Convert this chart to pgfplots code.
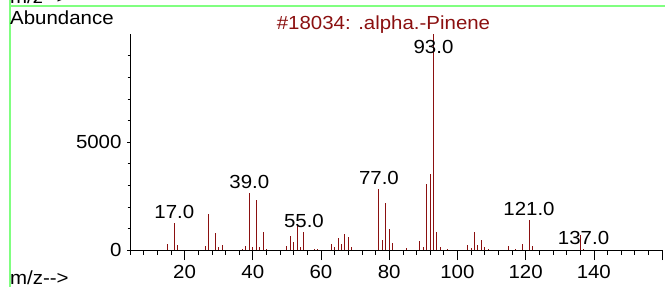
\documentclass[border=0pt]{standalone}
\usepackage{fontspec}
\setmainfont[FakeStretch=1.08]{Liberation Sans}
\usepackage{pgfplots}
\pgfplotsset{compat=1.18}
\definecolor{peak}{RGB}{139,16,16}
\definecolor{frameg}{RGB}{128,255,128}
\newcommand\cf{\fontsize{19}{21}\selectfont}
\begin{document}
\begin{tikzpicture}[x=1bp,y=1bp]
\path[use as bounding box] (0,0) rectangle (665,287);
\clip (0,0) rectangle (665,287);
\draw[frameg, line width=1.5bp] (10,287) -- (10,0);
\draw[frameg, line width=1.5bp] (10,281) -- (665,281);
\node[anchor=base west, inner sep=0, font=\cf] at (10,284) {m/z-{}-{}>};
\node[anchor=base west, inner sep=0, font=\cf] at (10,262.5) {Abundance};
\node[anchor=base west, inner sep=0, font=\cf] at (10,3) {m/z-{}-{}>};
\node[anchor=base, inner sep=0, font=\cf, text=peak] at (383.5,257.5) {\#18034: .alpha.-Pinene};
\begin{axis}[
  at={(130bp,37bp)}, anchor=south west, scale only axis,
  width=532bp, height=216bp,
  xmin=4, xmax=160, ymin=0, ymax=10000,
  axis lines=left, axis line style={-, black, line width=0.8bp},
  tick align=outside,
  xtick={20,40,...,160}, xticklabels={20,40,60,80,100,120,140,{}},
  minor xtick={4,8,...,160},
  ytick={0,5000}, minor ytick={1000,2000,3000,4000,6000,7000,8000,9000},
  major tick length=10bp, minor tick length=4.5bp,
  ytick style={/pgfplots/major tick length=3bp,/pgfplots/minor tick length=2.5bp},
  tick style={black, line width=0.6bp},
  ticklabel style={font=\cf},
  xticklabel style={yshift=-1.5bp},
  yticklabel style={xshift=5bp, /pgf/number format/1000 sep={}},
  /pgf/number format/assume math mode=true,
  scaled y ticks=false,
  clip=false,
]
\addplot[ycomb, no marks, peak, line width=1bp] coordinates {
(15,264) (17,1250) (18,220)
(26,170) (27,1667) (29,800) (30,140) (31,220)
(37,50) (38,170) (39,2640) (40,140) (41,2315) (42,140) (43,850) (44,60)
(50,190) (51,630) (52,370) (53,1100) (54,120) (55,830) (58,50) (59,50)
(63,300) (64,120) (65,555) (66,280) (67,755) (68,585) (69,120)
(77,2820) (78,460) (79,2190) (80,970) (81,320) (85,80)
(89,420) (90,140) (91,3070) (92,3520) (93,9999) (94,850) (95,120) (97,60)
(103,245) (104,80) (105,815) (106,245) (107,475) (108,140) (109,60)
(115,170) (117,50) (119,270) (121,1400) (122,170)
(136,700) (137,50)
};
\node[anchor=base, inner sep=0, font=\cf, yshift=4.5bp] at (axis cs:17,1250) {17.0};
\node[anchor=base, inner sep=0, font=\cf, yshift=4.5bp] at (axis cs:39,2640) {39.0};
\node[anchor=base, inner sep=0, font=\cf, yshift=4.5bp] at (axis cs:55,830) {55.0};
\node[anchor=base, inner sep=0, font=\cf, yshift=4.5bp] at (axis cs:77,2820) {77.0};
\node[anchor=base, inner sep=0, font=\cf] at (axis cs:93,9120) {93.0};
\node[anchor=base, inner sep=0, font=\cf, yshift=4.5bp] at (axis cs:121,1400) {121.0};
\node[anchor=base, inner sep=0, font=\cf, yshift=4.5bp] at (axis cs:137,50) {137.0};
\end{axis}
\end{tikzpicture}
\end{document}
